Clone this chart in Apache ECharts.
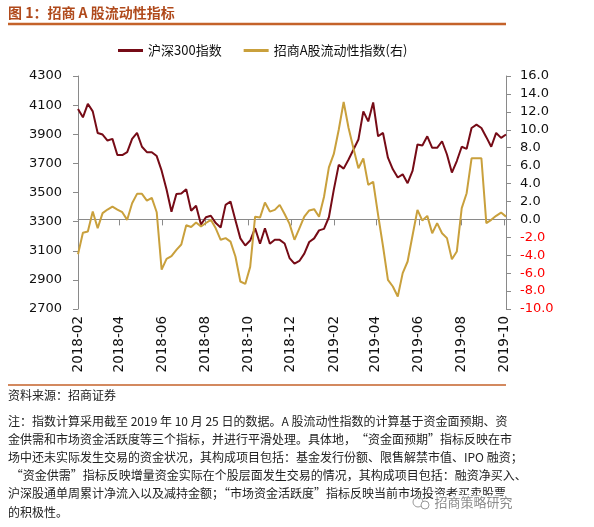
<!DOCTYPE html>
<html><head><meta charset="utf-8">
<script src="https://cdn.jsdelivr.net/npm/echarts@6/dist/echarts.min.js"></script>
<style>html,body{margin:0;padding:0;background:#fff}#c{width:594px;height:527px}</style>
</head><body><div id="c"></div>
<script>
// ---- data ----
const startDate = '2018-02-23';           // first weekly observation (Friday)
const endDate = '2019-10-25';             // last weekly observation
const xTickDates = ['2018-02-23','2018-04-23','2018-06-23','2018-08-23','2018-10-23','2018-12-23',
                    '2019-02-23','2019-04-23','2019-06-23','2019-08-23','2019-10-23'];
const xTickLabels = ['2018-02','2018-04','2018-06','2018-08','2018-10','2018-12',
                     '2019-02','2019-04','2019-06','2019-08','2019-10'];
const leftTicks = [2700, 2900, 3100, 3300, 3500, 3700, 3900, 4100, 4300];
const rightTicks = [-10, -8, -6, -4, -2, 0, 2, 4, 6, 8, 10, 12, 14, 16];
const seriesNames = ['沪深300指数', '招商A股流动性指数(右)'];
// 沪深300指数 (weekly)
const csi300 = [
  4073, 4016, 4109, 4057, 3909, 3898, 3857, 3868, 3757, 3757,
  3777, 3868, 3909, 3814, 3777, 3777, 3750, 3650, 3520, 3368,
  3489, 3493, 3523, 3375, 3409, 3280, 3330, 3340, 3290, 3260,
  3415, 3438, 3310, 3185, 3136, 3170, 3255, 3148, 3255, 3148,
  3175, 3175, 3150, 3050, 3011, 3030, 3080, 3160, 3185, 3240,
  3250, 3330, 3520, 3690, 3664, 3727, 3795, 3864, 4057, 3988,
  4118, 3886, 3909, 3739, 3659, 3603, 3625, 3564, 3648, 3830,
  3823, 3886, 3807, 3807, 3852, 3761, 3637, 3716, 3814, 3800,
  3943, 3966, 3943, 3880, 3814, 3909, 3875, 3898
];
// 招商A股流动性指数 (weekly, right axis)
const liquidity = [
  -3.9, -1.5, -1.36, 0.87, -0.98, 0.7, 1.1, 1.43, 1.1, 0.8,
  -0.05, 1.8, 2.85, 2.85, 2.1, 2.4, 0.8, -5.6, -4.4, -4.1,
  -3.4, -2.8, -0.65, -0.85, -0.35, -0.8, -0.4, -0.05, -1.0, -2.28,
  -2.09, -2.48, -4.14, -6.93, -7.2, -5.3, 0.3, 0.2, 1.88, 0.87,
  1.06, 1.62, 0.6, -0.5, -2.28, -1.0, 0.3, 1.0, 1.14, 0.3,
  2.5, 5.8, 7.3, 10.0, 13.1, 10.2, 7.9, 5.7, 6.8, 3.85,
  4.2, 0.5, -3.0, -6.74, -7.49, -8.6, -6.0, -4.7, -1.8, 1.06,
  -0.13, 0.39, -1.54, -0.42, -1.54, -2.09, -4.44, -3.59, 1.25, 2.92,
  6.82, 6.82, 6.82, -0.42, -0.05, 0.4, 0.76, 0.31
];
const titleText = '图 1：招商 A 股流动性指标';
const sourceText = '资料来源：招商证券';
const noteLines = [
  '注：指数计算采用截至 2019 年 10 月 25 日的数据。A 股流动性指数的计算基于资金面预期、资',
  '金供需和市场资金活跃度等三个指标，并进行平滑处理。具体地，“资金面预期”指标反映在市',
  '场中还未实际发生交易的资金状况，其构成项目包括：基金发行份额、限售解禁市值、IPO 融资；',
  ' “资金供需”指标反映增量资金实际在个股层面发生交易的情况，其构成项目包括：融资净买入、',
  '沪深股通单周累计净流入以及减持金额；“市场资金活跃度”指标反映当前市场投资者买卖股票',
  '的积极性。'
];
const watermarkText = '招商策略研究';

// ---- build ----
const DAY = 86400000;
const ts = s => Date.parse(s + 'T00:00:00Z');
const t0 = ts(startDate);
const weekTimes = csi300.map((_, i) => t0 + i * 7 * DAY);
const xTickTimes = xTickDates.map(ts);
const CJK = 'Noto Sans CJK SC';
const NUM = 'DejaVu Sans';

const noteGraphics = noteLines.map((s, i) => ({
  type: 'text', left: 8, top: 415 + i * 18.2,
  style: { text: s, font: '12px "' + CJK + '"', fill: '#222' }
}));

const chart = echarts.init(document.getElementById('c'), null, { renderer: 'canvas' });
chart.setOption({
  backgroundColor: '#fff',
  animation: false,
  grid: { left: 78, right: 88, top: 76, bottom: 218 },
  legend: {
    data: seriesNames, left: 113, top: 39, icon: 'rect',
    itemWidth: 25, itemHeight: 3, itemGap: 22,
    textStyle: { fontFamily: CJK, fontSize: 13, color: '#111', padding: [0, 0, 0, 0] }
  },
  xAxis: {
    type: 'value', min: t0, max: ts(endDate),
    axisLine: { lineStyle: { color: '#8a8a8a', width: 1 } },
    axisTick: { show: true, length: 6, lineStyle: { color: '#8a8a8a' }, customValues: xTickTimes },
    splitLine: { show: false },
    axisLabel: {
      customValues: xTickTimes, rotate: 90, margin: 7,
      fontFamily: NUM, fontSize: 13.5, color: '#111',
      formatter: v => { const i = xTickTimes.indexOf(v); return i >= 0 ? xTickLabels[i] : ''; }
    }
  },
  yAxis: [
    {
      type: 'value', min: leftTicks[0], max: leftTicks[leftTicks.length - 1],
      axisLine: { show: true, lineStyle: { color: '#8a8a8a' } },
      axisTick: { show: true, length: 5, lineStyle: { color: '#8a8a8a' }, customValues: leftTicks },
      splitLine: { show: false },
      axisLabel: { customValues: leftTicks, margin: 16, fontFamily: NUM, fontSize: 13, color: '#111',
                   formatter: v => String(v) }
    },
    {
      type: 'value', min: rightTicks[0], max: rightTicks[rightTicks.length - 1], interval: 2,
      axisLine: { show: true, lineStyle: { color: '#8a8a8a' } },
      axisTick: { show: true, length: 5, lineStyle: { color: '#8a8a8a' } },
      splitLine: { show: false },
      axisLabel: {
        margin: 14, fontFamily: NUM, fontSize: 13,
        formatter: v => v.toFixed(1),
        color: v => (Number(v) < 0 ? '#ff0000' : '#111')
      }
    }
  ],
  series: [
    {
      name: seriesNames[0], type: 'line', yAxisIndex: 0, showSymbol: false,
      color: '#760b16', lineStyle: { width: 2, color: '#760b16' },
      data: csi300.map((v, i) => [weekTimes[i], v])
    },
    {
      name: seriesNames[1], type: 'line', yAxisIndex: 1, showSymbol: false,
      color: '#c9a03c', lineStyle: { width: 2, color: '#c9a03c' },
      data: liquidity.map((v, i) => [weekTimes[i], v])
    }
  ],
  graphic: [
    { type: 'text', left: 8, top: 6, style: { text: titleText, font: 'bold 14px "' + CJK + '"', fill: '#b04a1c' } },
    { type: 'line', shape: { x1: 8, y1: 24, x2: 506, y2: 24 }, style: { stroke: '#c4622a', lineWidth: 2.5 } },
    { type: 'line', shape: { x1: 8, y1: 385, x2: 506, y2: 385 }, style: { stroke: '#c4622a', lineWidth: 1.5 } },
    { type: 'text', left: 8, top: 389, style: { text: sourceText, font: '12px "' + CJK + '"', fill: '#222' } },
    ...noteGraphics,
    { type: 'circle', shape: { cx: 418, cy: 502, r: 5 }, style: { fill: 'none', stroke: '#9a9a9a', lineWidth: 1 }, z: 10 },
    { type: 'circle', shape: { cx: 425, cy: 505, r: 4 }, style: { fill: '#fff', stroke: '#9a9a9a', lineWidth: 1 }, z: 10 },
    { type: 'text', left: 433, top: 494, z: 10,
      style: { text: watermarkText, font: '13px "' + CJK + '"', fill: '#8c8c8c', stroke: '#fff', lineWidth: 3 } }
  ]
});
</script></body></html>
